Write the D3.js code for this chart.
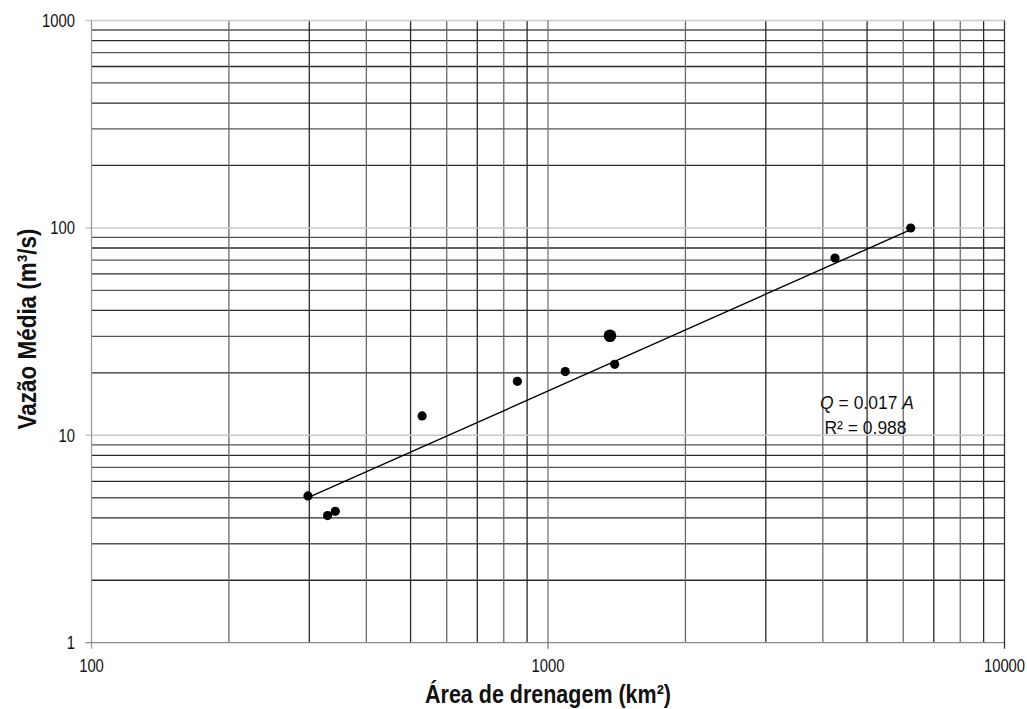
<!DOCTYPE html>
<html>
<head>
<meta charset="utf-8">
<script src="https://cdn.jsdelivr.net/npm/d3@7"></script>
<style>
  body { margin: 0; background: #fff; }
  svg text { font-family: "Liberation Sans", Arial, sans-serif; fill: #111; }
</style>
</head>
<body>
<svg id="chart"></svg>
<script>
// Área de drenagem (km²) e vazão média (m³/s)
var area  = [298, 329, 342, 530, 857, 1091, 1367, 1400, 4253, 6230];
var vazao = [5.1, 4.1, 4.3, 12.4, 18.2, 20.3, 30.2, 22.0, 71.6, 99.9];
var destaque = 1367;   // ponto maior

// reta de ajuste
var ajusteA = [298, 6230];
var ajusteQ = [5.0, 98];

var xTicks = [100, 1000, 10000];
var yTicks = [1, 10, 100, 1000];

var svg = d3.select('#chart')
    .attr('width', 1027)
    .attr('height', 709);

var x = d3.scaleLog().domain([100, 10000]).range([91.5, 1004.5]);
var y = d3.scaleLog().domain([1, 1000]).range([642.7, 20.5]);

// minor grid values
function minors(lo, hi) {
  var out = [];
  for (var d = lo; d < hi; d *= 10) {
    for (var k = 2; k <= 9; k++) out.push(k * d);
  }
  return out;
}

// narrow text: the original font is condensed, squeeze it horizontally
function narrowText(px, py, sx, anchor, size, txt) {
  return svg.append('text')
      .attr('transform', 'translate(' + px + ',' + py + ') scale(' + sx + ',1)')
      .attr('text-anchor', anchor)
      .style('font-size', size + 'px')
      .text(txt);
}

var grid = svg.append('g');

// horizontal minor lines
grid.selectAll('line.hmin').data(minors(1, 1000)).enter()
    .append('line')
    .attr('x1', x(100)).attr('x2', x(10000))
    .attr('y1', function (d) { return y(d); })
    .attr('y2', function (d) { return y(d); })
    .style('stroke', function (d, i) { return i % 2 ? '#555' : '#2a2a2a'; })
    .style('stroke-width', 1.3);

// vertical minor lines
grid.selectAll('line.vmin').data(minors(100, 10000)).enter()
    .append('line')
    .attr('y1', y(1000)).attr('y2', y(1))
    .attr('x1', function (d) { return x(d); })
    .attr('x2', function (d) { return x(d); })
    .style('stroke', function (d, i) { return i % 2 ? '#2a2a2a' : '#6a6a6a'; })
    .style('stroke-width', 1.3);

// major horizontal lines (light)
grid.selectAll('line.hmaj').data([10, 100, 1000]).enter()
    .append('line')
    .attr('x1', x(100) - 6).attr('x2', x(10000))
    .attr('y1', function (d) { return y(d); })
    .attr('y2', function (d) { return y(d); })
    .style('stroke', '#c8c8c8')
    .style('stroke-width', 1.5);

// bottom axis line and left axis line
grid.append('line')
    .attr('x1', x(100) - 6).attr('x2', x(10000))
    .attr('y1', y(1)).attr('y2', y(1))
    .style('stroke', '#8a8a8a').style('stroke-width', 1.3);
grid.append('line')
    .attr('x1', x(100)).attr('x2', x(100))
    .attr('y1', y(1000)).attr('y2', y(1) + 6)
    .style('stroke', '#9a9a9a').style('stroke-width', 1.3);
grid.selectAll('line.vmaj').data([1000]).enter()
    .append('line')
    .attr('x1', function (d) { return x(d); })
    .attr('x2', function (d) { return x(d); })
    .attr('y1', y(1000)).attr('y2', y(1) + 6)
    .style('stroke', '#777').style('stroke-width', 1.3);
grid.append('line')
    .attr('x1', x(10000)).attr('x2', x(10000))
    .attr('y1', y(1000)).attr('y2', y(1) + 6)
    .style('stroke', '#333').style('stroke-width', 1.3);

// tick labels
yTicks.forEach(function (d) {
  narrowText(75, y(d) + 6.5, 0.78, 'end', 19, d);
});
xTicks.forEach(function (d) {
  narrowText(x(d), 672, 0.78, 'middle', 19, d);
});

// trend line
var linha = d3.line()
    .x(function (d) { return x(d[0]); })
    .y(function (d) { return y(d[1]); });

svg.append('path')
    .datum(d3.zip(ajusteA, ajusteQ))
    .attr('d', linha)
    .style('fill', 'none')
    .style('stroke', '#000')
    .style('stroke-width', 1.4);

// points
svg.selectAll('circle').data(d3.zip(area, vazao)).enter()
    .append('circle')
    .attr('cx', function (d) { return x(d[0]); })
    .attr('cy', function (d) { return y(d[1]); })
    .attr('r', function (d) { return d[0] === destaque ? 6.3 : 4.6; })
    .style('fill', '#000');

// equation
var eq = narrowText(867, 409, 0.92, 'middle', 19, null);
eq.append('tspan').style('font-style', 'italic').text('Q');
eq.append('tspan').text(' = 0.017 ');
eq.append('tspan').style('font-style', 'italic').text('A');

narrowText(865.5, 434, 0.92, 'middle', 19, 'R² = 0.988');

// axis titles
narrowText(548, 703, 0.86, 'middle', 25, 'Área de drenagem (km²)')
    .style('font-weight', 'bold');

svg.append('text')
    .attr('transform', 'translate(36,329) rotate(-90) scale(0.9,1)')
    .attr('text-anchor', 'middle')
    .style('font-size', '25px')
    .style('font-weight', 'bold')
    .text('Vazão Média (m³/s)');
</script>
</body>
</html>
